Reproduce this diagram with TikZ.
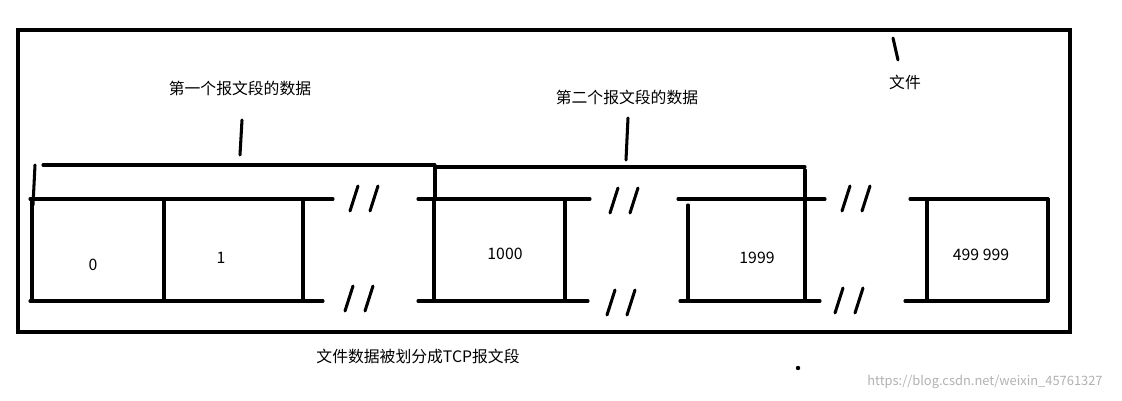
\documentclass[tikz,border=0pt]{standalone}
\usepackage{fontspec}
\setmainfont{Noto Sans CJK SC}
\begin{document}
\begin{tikzpicture}[x=0.03cm,y=-0.03cm,
  ln/.style={line width=2.6pt,line cap=round},
  lbl/.style={font=\fontsize{13.5}{16}\selectfont,inner sep=0pt}]
\fill[white] (0,0) rectangle (1122,401);
\useasboundingbox (0,0) rectangle (1122,401);
\draw[line width=3.2pt] (18,30) rectangle (1070,332);
% cells
\draw[ln] (30,199)--(333,199); \draw[ln] (30,301)--(323,301);
\draw[ln] (32,199)--(32,301); \draw[ln] (164,199)--(164,301); \draw[ln] (303,199)--(303,301);
\draw[ln] (418,199)--(590,199); \draw[ln] (418,301)--(588,301);
\draw[ln] (434,199)--(434,301); \draw[ln] (565,199)--(565,301);
\draw[ln] (678,199)--(825,199); \draw[ln] (680,301)--(820,301);
\draw[ln] (688,205)--(688,301); \draw[ln] (805,199)--(805,301);
\draw[ln] (910,199)--(1048,199); \draw[ln] (905,301)--(1048,301);
\draw[ln] (927,199)--(927,301); \draw[ln] (1048,199)--(1048,301);
% slashes
\foreach \x/\y in {350/186,370/186,610/188,630/188,842/186,862/186}
  \draw[ln] (\x+8,\y)--(\x,\y+25);
\foreach \x/\y in {345/286,365/286,607/290,627/290,835/288,855/288}
  \draw[ln] (\x+8,\y)--(\x,\y+25);
% braces
\draw[ln] (43,165)--(435,165); \draw[ln] (35,165)--(33,205);
\draw[ln] (435,167)--(805,167); \draw[ln] (435,167)--(435,200); \draw[ln] (805,170)--(805,200);
\draw[ln] (242,120)--(240,155); \draw[ln] (628,118)--(626,160);
\draw[ln] (893,38)--(898,60);
% labels
\node[lbl] (l1) at (240,88) {第一个报文段的数据};
\node[lbl] (l2) at (627,97) {第二个报文段的数据};
\node[lbl] (l3) at (905,82) {文件};
\node[lbl] (c0) at (93,265) {0};
\node[lbl] (c1) at (221,258) {1};
\node[lbl] (c2) at (505,254) {1000};
\node[lbl] (c3) at (757,258) {1999};
\node[lbl] (c4) at (981,255) {499 999};
\node[lbl] (cap) at (418,356) {文件数据被划分成TCP报文段};
\fill (798,368) circle (2.2);
\node[lbl,text=gray!60,font=\fontsize{11}{13}\selectfont] (wm) at (985,382) {https://blog.csdn.net/weixin\_45761327};
\end{tikzpicture}
\end{document}
